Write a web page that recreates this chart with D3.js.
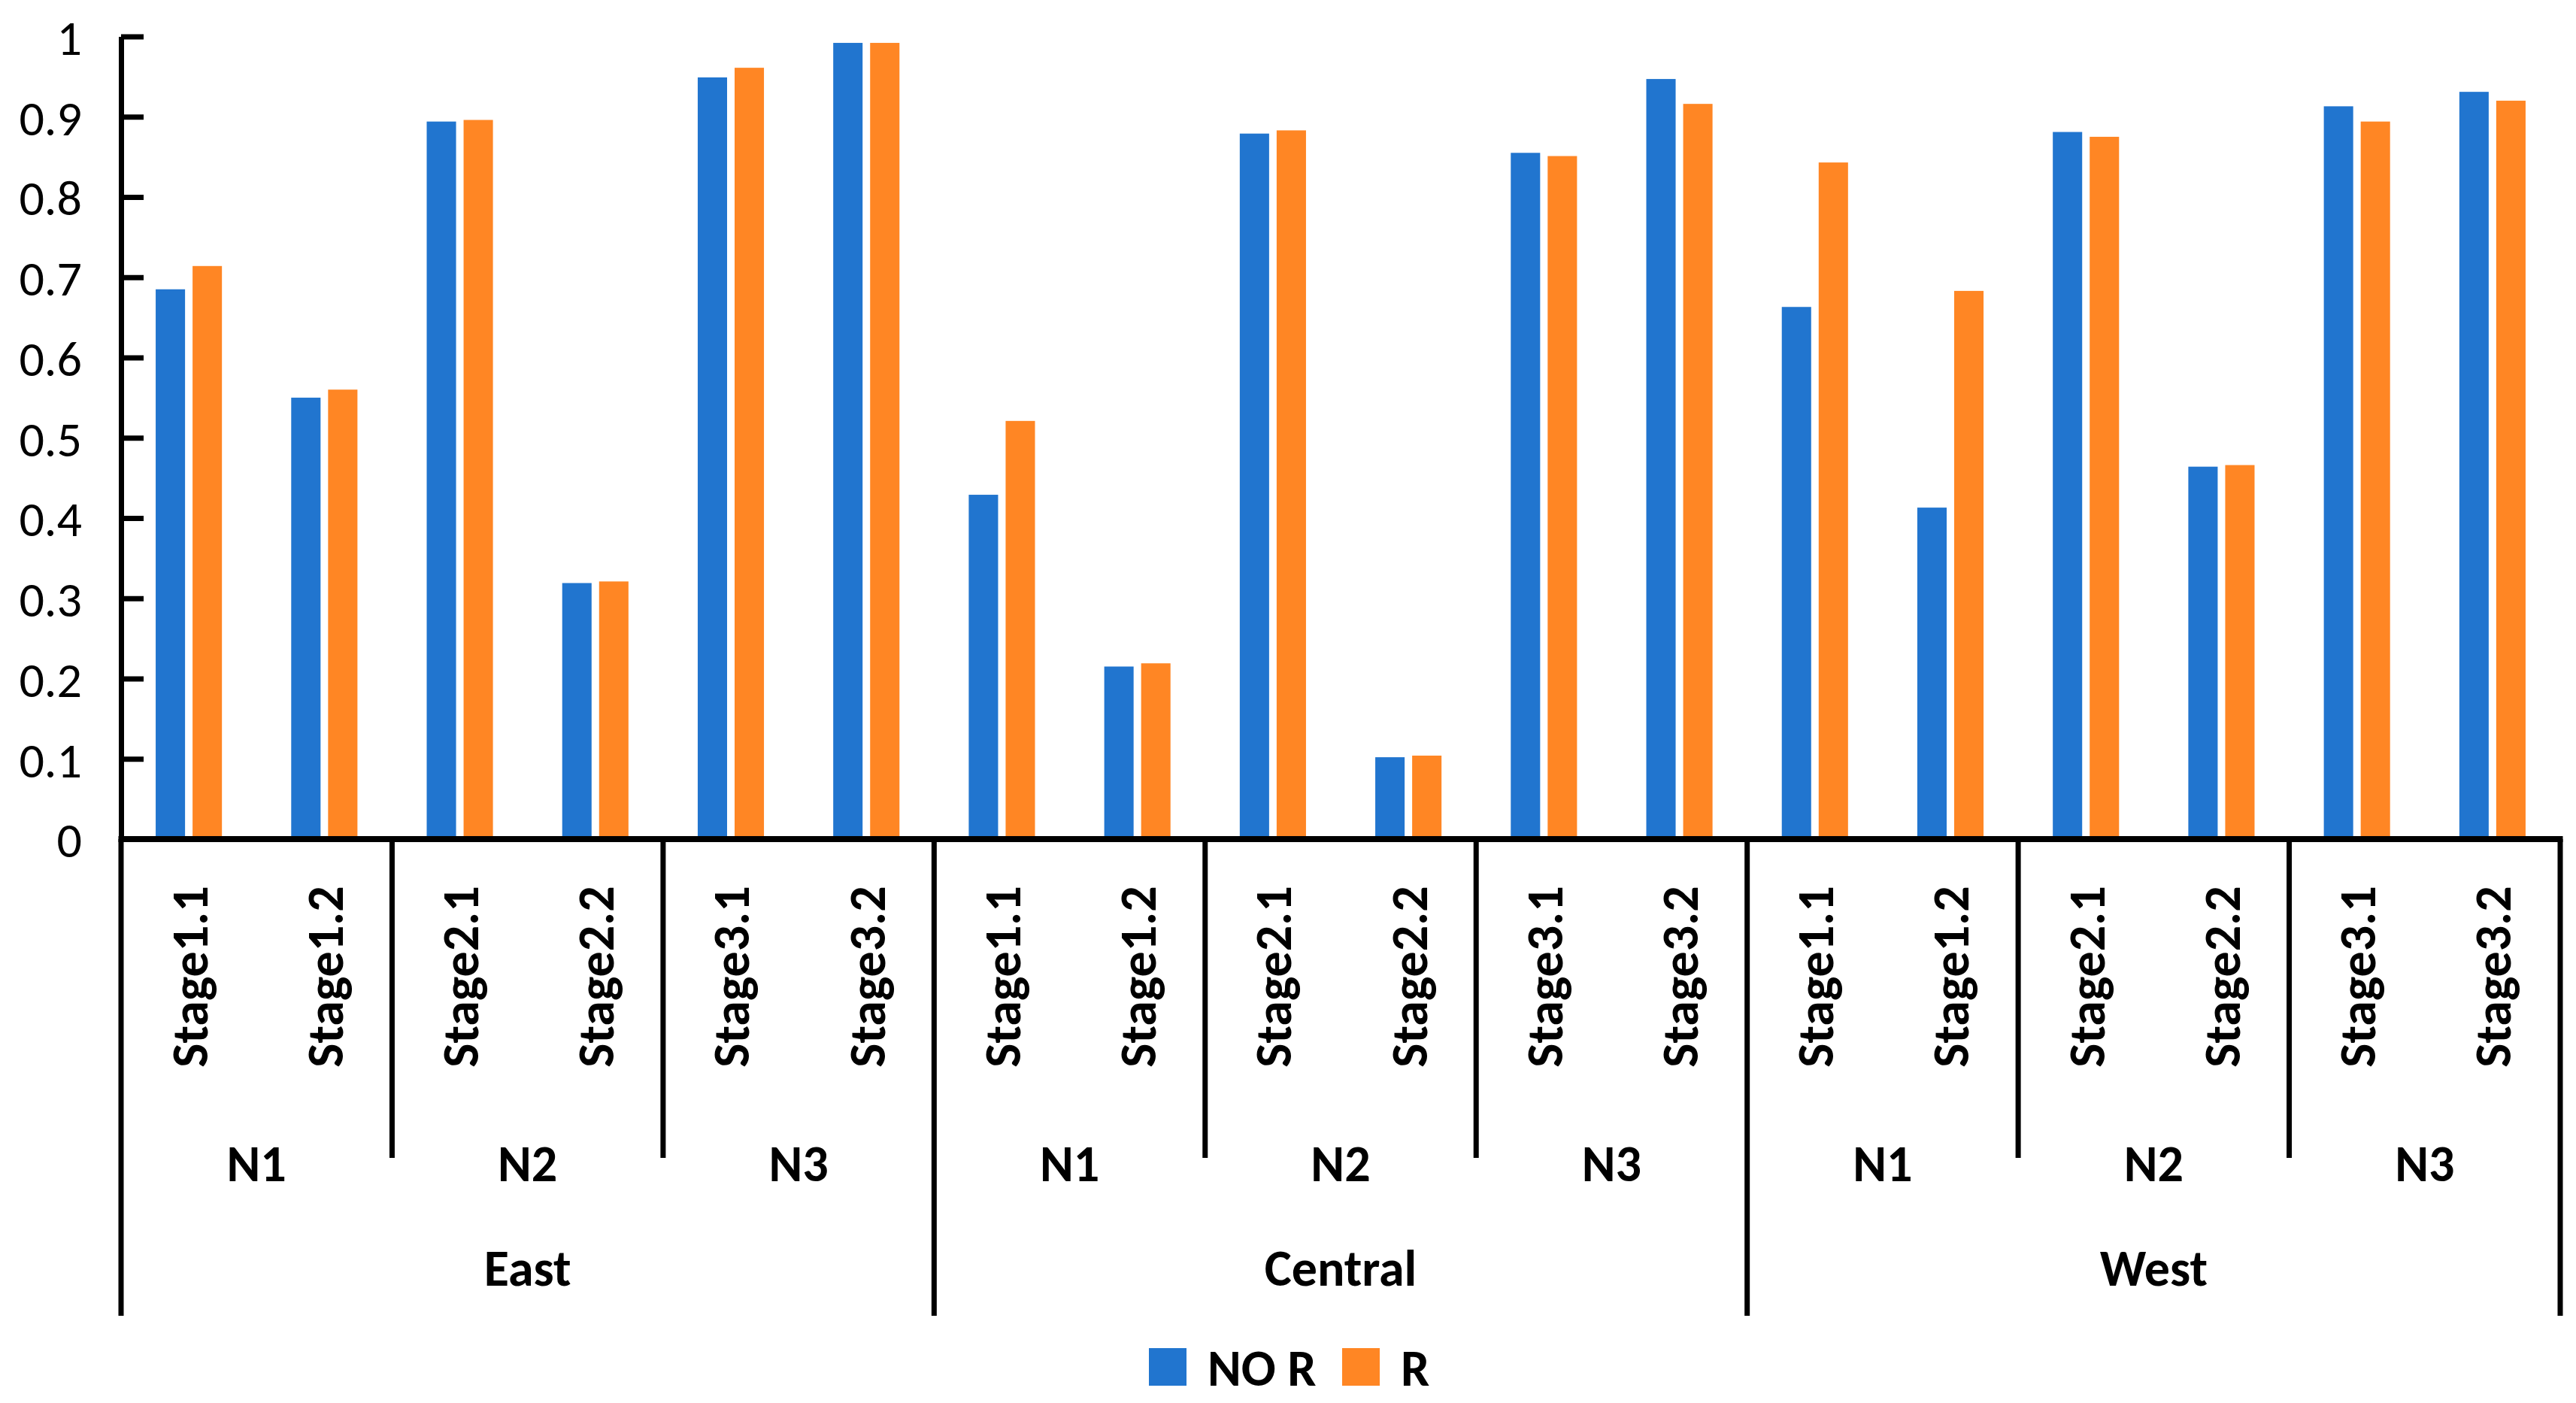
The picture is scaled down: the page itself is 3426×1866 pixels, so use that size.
<!DOCTYPE html>
<html>
<head>
<meta charset="utf-8">
<script src="https://cdn.jsdelivr.net/npm/d3@7"></script>
<style>
  html, body { margin: 0; padding: 0; background: #fff; }
  svg { display: block; }
  text { font-family: Carlito, Calibri, Lato, "Open Sans", sans-serif; fill: #000; }
</style>
</head>
<body>
<svg id="chart" width="3426" height="1866"></svg>
<script>
// ---- data ----
const regions = ["East", "Central", "West"];
const groups = ["N1", "N2", "N3"];
const stages = ["Stage1.1", "Stage1.2", "Stage2.1", "Stage2.2", "Stage3.1", "Stage3.2"];
const seriesNames = ["NO R", "R"];
const seriesColors = ["#2175CF", "#FF8624"];
const noR = [0.685, 0.550, 0.894, 0.319, 0.949, 0.992,
             0.429, 0.215, 0.879, 0.102, 0.855, 0.947,
             0.663, 0.413, 0.881, 0.464, 0.913, 0.931];
const rVals = [0.714, 0.560, 0.896, 0.321, 0.961, 0.992,
               0.521, 0.219, 0.883, 0.104, 0.851, 0.916,
               0.843, 0.683, 0.875, 0.466, 0.894, 0.920];
const yTicks = [0, 0.1, 0.2, 0.3, 0.4, 0.5, 0.6, 0.7, 0.8, 0.9, 1];
const yTickLabels = ["0", "0.1", "0.2", "0.3", "0.4", "0.5", "0.6", "0.7", "0.8", "0.9", "1"];

(function () {
// ---- build category table ----
const cats = [];
regions.forEach((rg, ri) => {
  stages.forEach((st, si) => {
    const idx = ri * stages.length + si;
    cats.push({ id: idx, region: rg, group: groups[Math.floor(si / 2)], stage: st, vals: [noR[idx], rVals[idx]] });
  });
});

const svg = d3.select("#chart");
const plotLeft = 161, plotRight = 3405, plotTop = 48.5, plotBase = 1116;
const FONT = 68, TICKFONT = 66;

const x = d3.scaleBand().domain(cats.map(d => d.id)).range([plotLeft, plotRight]).padding(0);
const xs = d3.scaleBand().domain(seriesNames).range([0, x.bandwidth()]).paddingInner(0.204).paddingOuter(0.939);
const y = d3.scaleLinear().domain([0, 1]).range([plotBase, plotTop]);

// bars
const cg = svg.append("g").selectAll("g").data(cats).join("g")
  .attr("transform", d => `translate(${x(d.id)},0)`);
cg.selectAll("rect").data(d => d.vals.map((v, i) => ({ v, s: seriesNames[i], c: seriesColors[i] })))
  .join("rect")
  .attr("x", d => xs(d.s))
  .attr("width", xs.bandwidth())
  .attr("y", d => y(d.v))
  .attr("height", d => y(0) - y(d.v) - 4)
  .attr("fill", d => d.c);

// y axis
const yAxis = d3.axisLeft(y).tickValues(yTicks).tickFormat((d, i) => yTickLabels[i])
  .tickSize(-30).tickSizeOuter(0).tickPadding(52);
const ya = svg.append("g").attr("transform", `translate(${plotLeft},0)`).call(yAxis);
ya.select(".domain").attr("stroke", "#000").attr("stroke-width", 7);
ya.selectAll(".tick line").attr("stroke", "#000").attr("stroke-width", 7);
ya.selectAll(".tick text").attr("font-size", TICKFONT).attr("font-family", null).attr("dy", "0.36em");

// x axis line
svg.append("line").attr("x1", plotLeft - 3.5).attr("x2", plotRight + 3.5).attr("y1", plotBase).attr("y2", plotBase)
  .attr("stroke", "#000").attr("stroke-width", 8);

// group boundaries
const nLineBottom = 1540, rLineBottom = 1750;
const boundaries = d3.range(0, cats.length + 1, 2).map(i => ({
  xpos: i < cats.length ? x(i) : plotRight,
  isRegion: i % stages.length === 0
}));
svg.append("g").selectAll("line").data(boundaries).join("line")
  .attr("x1", d => d.xpos).attr("x2", d => d.xpos)
  .attr("y1", plotBase).attr("y2", d => d.isRegion ? rLineBottom : nLineBottom)
  .attr("stroke", "#000").attr("stroke-width", 7);

// stage labels
svg.append("g").selectAll("text").data(cats).join("text")
  .attr("transform", d => `translate(${x(d.id) + x.bandwidth() / 2},1299) rotate(-90)`)
  .attr("text-anchor", "middle").attr("dy", "0.36em")
  .attr("font-size", FONT).attr("font-weight", "bold")
  .text(d => d.stage);

// group labels
const groupCells = [];
regions.forEach((rg, ri) => groups.forEach((g, gi) => {
  const i0 = ri * stages.length + gi * 2;
  groupCells.push({ label: g, cx: x(i0) + x.bandwidth() });
}));
svg.append("g").selectAll("text").data(groupCells).join("text")
  .attr("x", d => d.cx).attr("y", 1547).attr("dy", "0.36em")
  .attr("text-anchor", "middle").attr("font-size", FONT).attr("font-weight", "bold")
  .text(d => d.label);

// region labels
const regionCells = regions.map((rg, ri) => ({ label: rg, cx: x(ri * stages.length) + x.bandwidth() * stages.length / 2 }));
svg.append("g").selectAll("text").data(regionCells).join("text")
  .attr("x", d => d.cx).attr("y", 1686).attr("dy", "0.36em")
  .attr("text-anchor", "middle").attr("font-size", FONT).attr("font-weight", "bold")
  .text(d => d.label);

// legend
const legend = svg.append("g");
const legItems = [{ name: seriesNames[0], color: seriesColors[0], sx: 1528, tx: 1606 },
                  { name: seriesNames[1], color: seriesColors[1], sx: 1785, tx: 1863 }];
legend.selectAll("rect").data(legItems).join("rect")
  .attr("x", d => d.sx).attr("y", 1793).attr("width", 50).attr("height", 50).attr("fill", d => d.color);
legend.selectAll("text").data(legItems).join("text")
  .attr("x", d => d.tx).attr("y", 1819).attr("dy", "0.36em")
  .attr("font-size", FONT).attr("font-weight", "bold")
  .text(d => d.name);
})();
</script>
</body>
</html>
